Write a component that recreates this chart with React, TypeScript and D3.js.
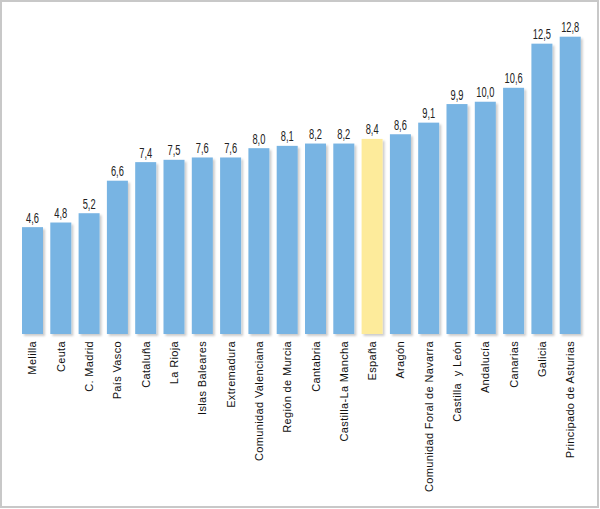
import React from "react";
import * as d3 from "d3";

const categories = [
  "Melilla", "Ceuta", "C. Madrid", "País Vasco", "Cataluña", "La Rioja",
  "Islas Baleares", "Extremadura", "Comunidad Valenciana", "Región de Murcia",
  "Cantabria", "Castilla-La Mancha", "España", "Aragón",
  "Comunidad Foral de Navarra", "Castilla  y León", "Andalucía", "Canarias",
  "Galicia", "Principado de Asturias",
];
const values = [4.6, 4.8, 5.2, 6.6, 7.4, 7.5, 7.6, 7.6, 8.0, 8.1, 8.2, 8.2, 8.4, 8.6, 9.1, 9.9, 10.0, 10.6, 12.5, 12.8];
const highlight = ["España"];

const W = 600;
const H = 509;

export default function App() {
  const x = d3
    .scaleBand<string>()
    .domain(categories)
    .range([22, 580.7])
    .paddingInner(0.258)
    .paddingOuter(0);
  const y = d3.scaleLinear().domain([0, 12.8]).range([334, 36.7]);
  const fmt = (v: number) => d3.format(".1f")(v).replace(".", ",");
  const data = categories.map((c, i) => ({ c, v: values[i] }));

  return (
    <svg
      width={W}
      height={H}
      style={{ position: "absolute", left: 0, top: 0, background: "#fff" }}
    >
      <defs>
        <filter id="sh" x="-20%" y="-5%" width="150%" height="115%">
          <feDropShadow dx="2" dy="2" stdDeviation="1.2" floodColor="#000" floodOpacity="0.2" />
        </filter>
      </defs>
      <rect x={1} y={1} width={W - 3} height={H - 3} fill="#fff" stroke="#c8c8c8" strokeWidth={2} />
      {data.map((d) => (
        <rect
          key={d.c}
          x={x(d.c)}
          y={y(d.v)}
          width={x.bandwidth()}
          height={y(0) - y(d.v)}
          fill={highlight.includes(d.c) ? "#FDEB9B" : "#78B4E3"}
          filter="url(#sh)"
        />
      ))}
      {data.map((d) => {
        const cx = (x(d.c) as number) + x.bandwidth() / 2;
        return (
          <text
            key={"v" + d.c}
            transform={`translate(${cx},${y(d.v) - 4.5}) scale(0.6,1)`}
            textAnchor="middle"
            fontFamily="'Liberation Sans', Arial, sans-serif"
            fontSize={15.5}
            fill="#222"
          >
            {fmt(d.v)}
          </text>
        );
      })}
      {data.map((d) => {
        const cx = (x(d.c) as number) + x.bandwidth() / 2;
        return (
          <text
            key={"l" + d.c}
            transform={`translate(${cx + 4},341) rotate(-90)`}
            textAnchor="end"
            fontFamily="'Liberation Sans', Arial, sans-serif"
            fontSize={11}
            letterSpacing={0.35}
            fill="#111"
            style={{ whiteSpace: "pre" }}
          >
            {d.c}
          </text>
        );
      })}
    </svg>
  );
}
